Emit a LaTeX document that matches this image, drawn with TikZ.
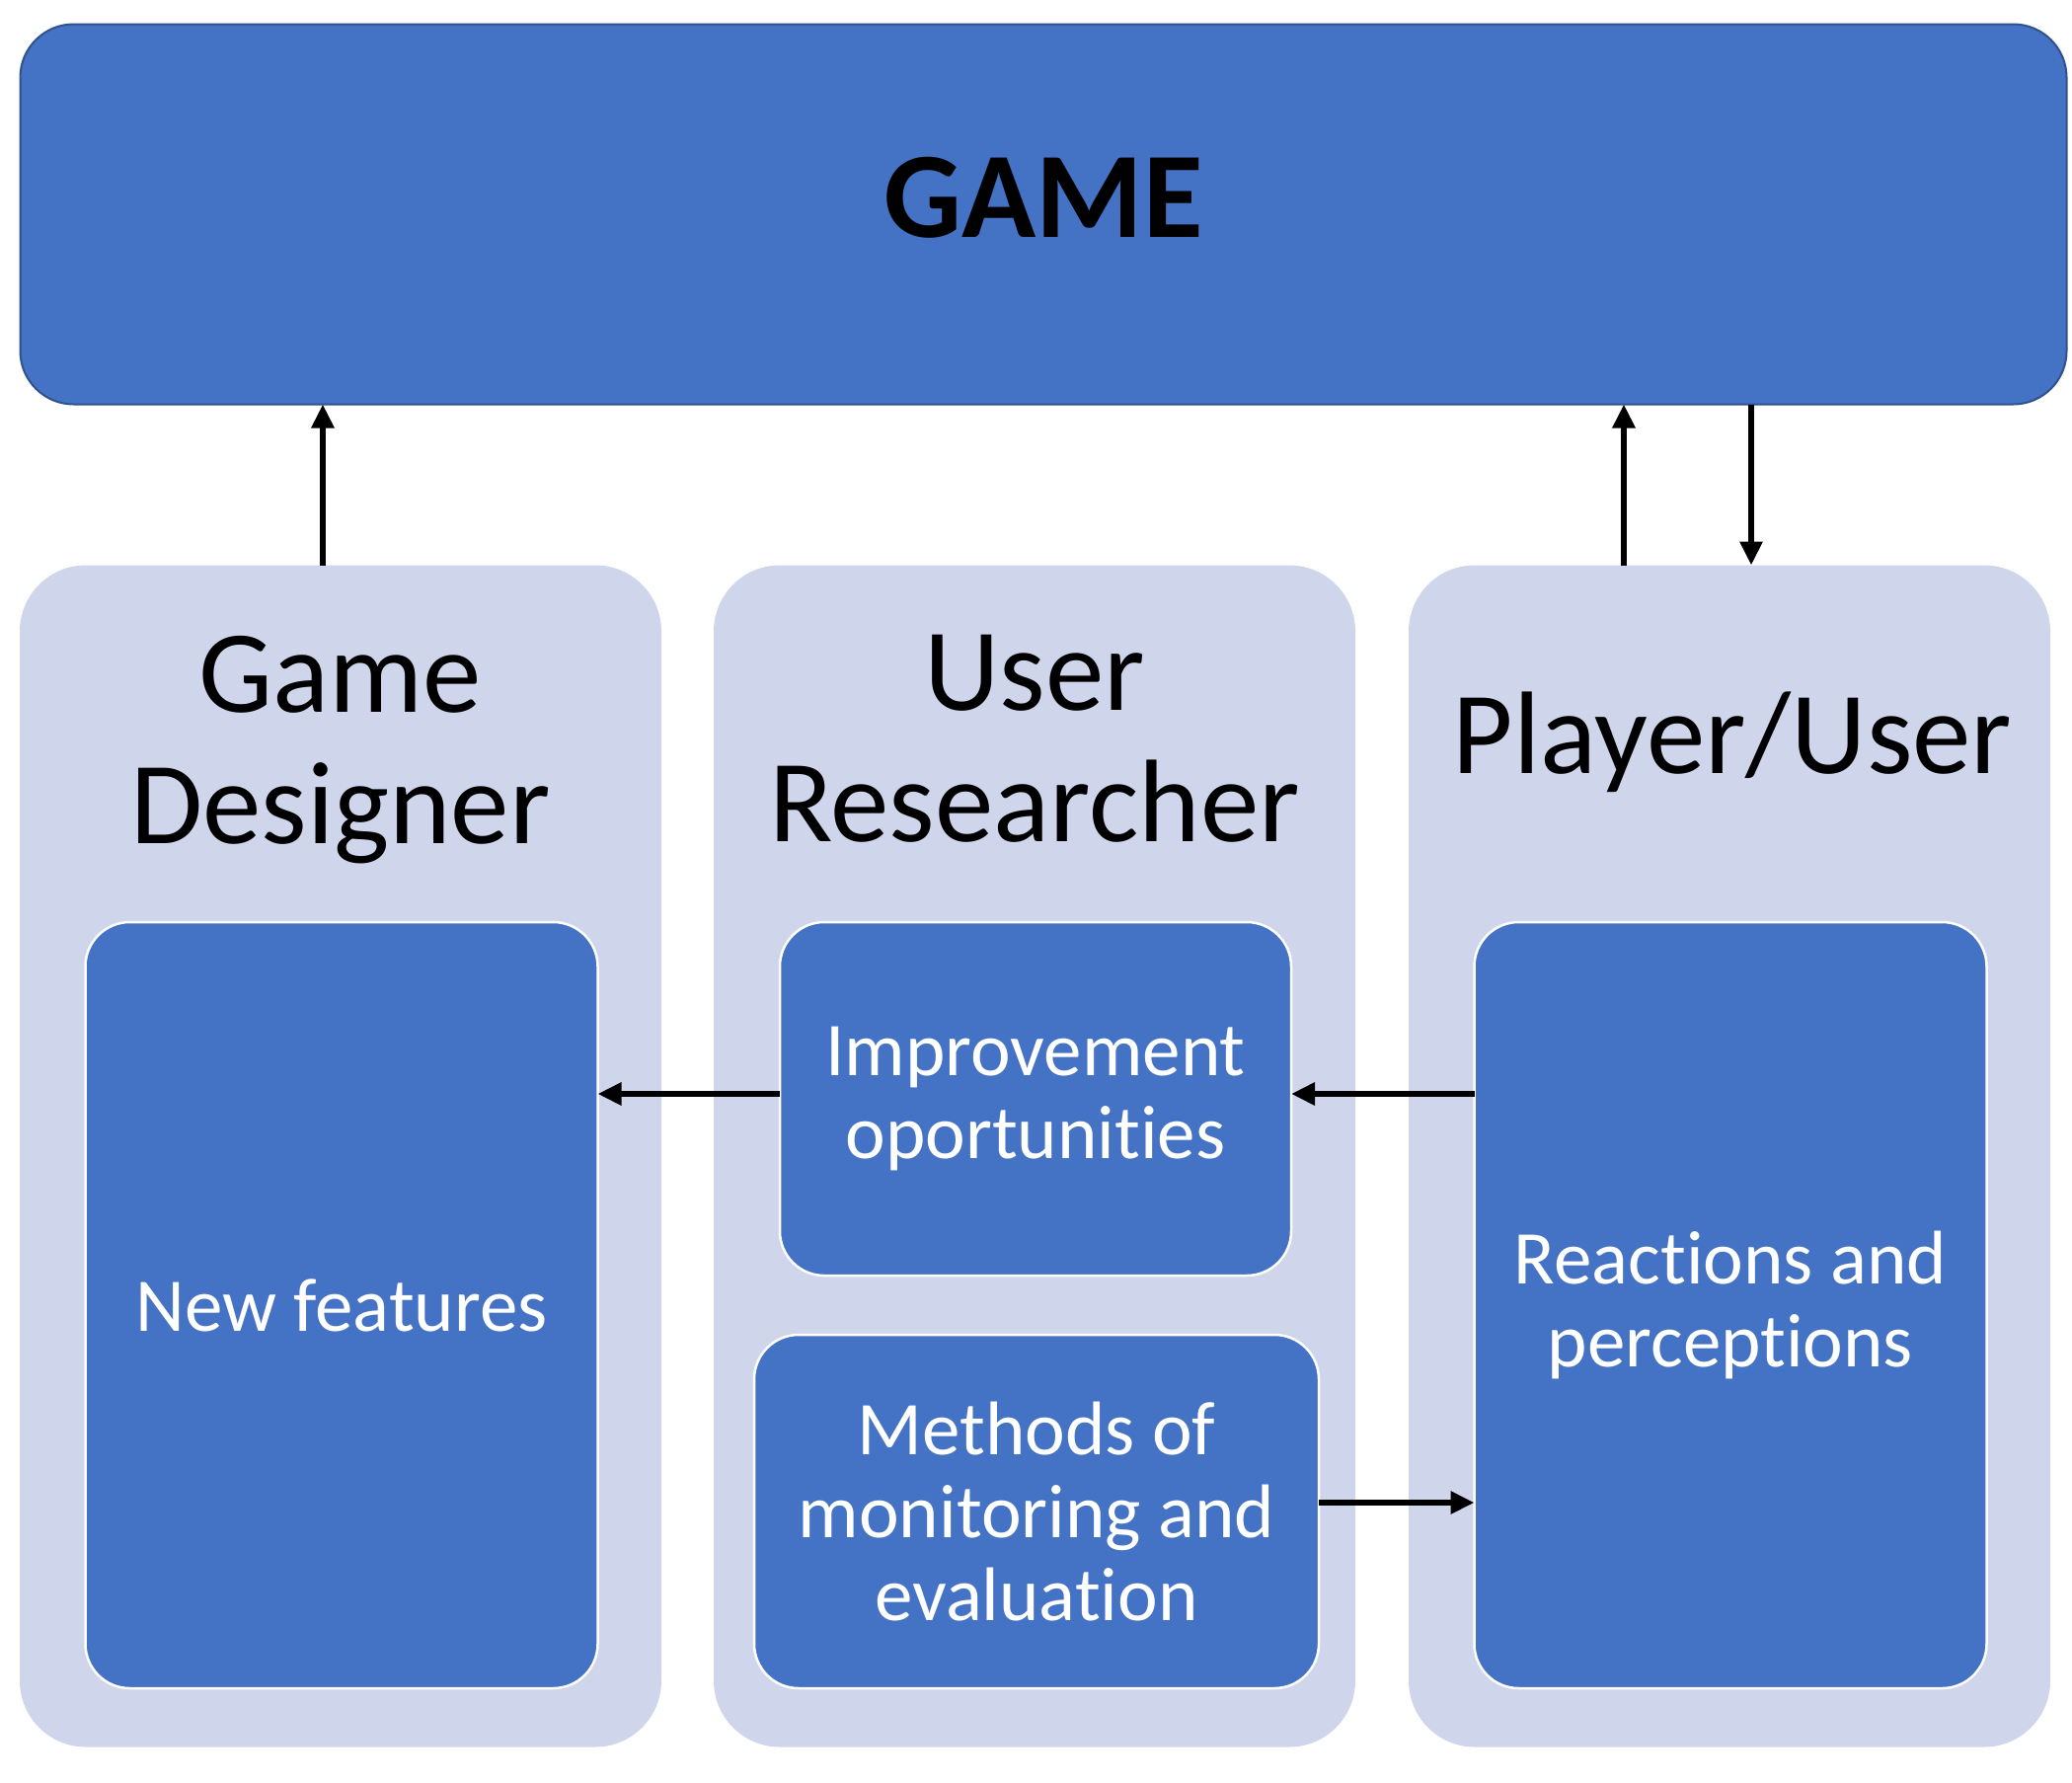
\documentclass[tikz,border=0pt]{standalone}
\usepackage{fontspec}
\setmainfont{Carlito}[Ligatures=NoCommon]
\usetikzlibrary{arrows.meta}
\definecolor{mainblue}{HTML}{4472C4}
\definecolor{darkedge}{HTML}{2F528F}
\definecolor{panelblue}{HTML}{CFD5EA}
\tikzset{
  gamebox/.style={draw=darkedge, line width=2pt, fill=mainblue, rounded corners=54pt, minimum width=2073pt, minimum height=385pt, inner sep=0pt, outer sep=0pt},
  panelbox/.style={fill=panelblue, draw=none, rounded corners=67pt, minimum width=650pt, minimum height=1197pt, inner sep=0pt, outer sep=0pt},
  innerbox/.style={draw=white, line width=2.5pt, fill=mainblue, rounded corners=45pt, inner sep=0pt, outer sep=0pt, text=white, align=center, font=\fontsize{77}{84}\selectfont},
  titletext/.style={align=center, font=\fontsize{119}{133}\selectfont, inner sep=0pt},
  arr/.style={line width=6.5pt, -{Triangle[length=24pt,width=22pt]}}
}
\begin{document}
\begin{tikzpicture}[x=1pt,y=-1pt]
\useasboundingbox (0,0) rectangle (2099,1805);
\node[gamebox] (game) at (1057,217) {};
\node[font=\fontsize{124}{130}\selectfont\bfseries, inner sep=0pt] (gametxt) at ([yshift=17pt]game.center) {GAME};

\node[panelbox] (pgd) at (345,1171) {};
\node[panelbox] (pur) at (1048,1171) {};
\node[panelbox] (ppu) at (1752,1171) {};

\node[titletext] (tgd) at (345,760) {Game\\Designer};
\node[titletext] (tur) at (1048,748) {User\\Researcher};
\node[titletext, anchor=base] (tpu) at (1755,783) {Player/User};

\node[innerbox, minimum width=519pt, minimum height=776pt] (nf) at (346,1322) {New features};
\node[innerbox, minimum width=518pt, minimum height=358pt] (imp) at (1049,1113) {Improvement\\oportunities};
\node[innerbox, minimum width=572pt, minimum height=358pt] (meth) at (1050,1531) {Methods of\\monitoring and\\evaluation};
\node[innerbox, minimum width=519pt, minimum height=776pt] (reac) at (1753,1322) {Reactions and\\perceptions};

\coordinate (a1) at (327,0);
\coordinate (a2) at (1645,0);
\coordinate (a3) at (1774,0);
\coordinate (h1) at (0,1108);
\coordinate (h2) at (0,1522);

\draw[arr] (pgd.north -| a1) -- (game.south -| a1);
\draw[arr] (ppu.north -| a2) -- (game.south -| a2);
\draw[arr] (game.south -| a3) -- (ppu.north -| a3);
\draw[arr] (imp.west |- h1) -- (nf.east |- h1);
\draw[arr] (reac.west |- h1) -- (imp.east |- h1);
\draw[arr] (meth.east |- h2) -- (reac.west |- h2);
\end{tikzpicture}
\end{document}
